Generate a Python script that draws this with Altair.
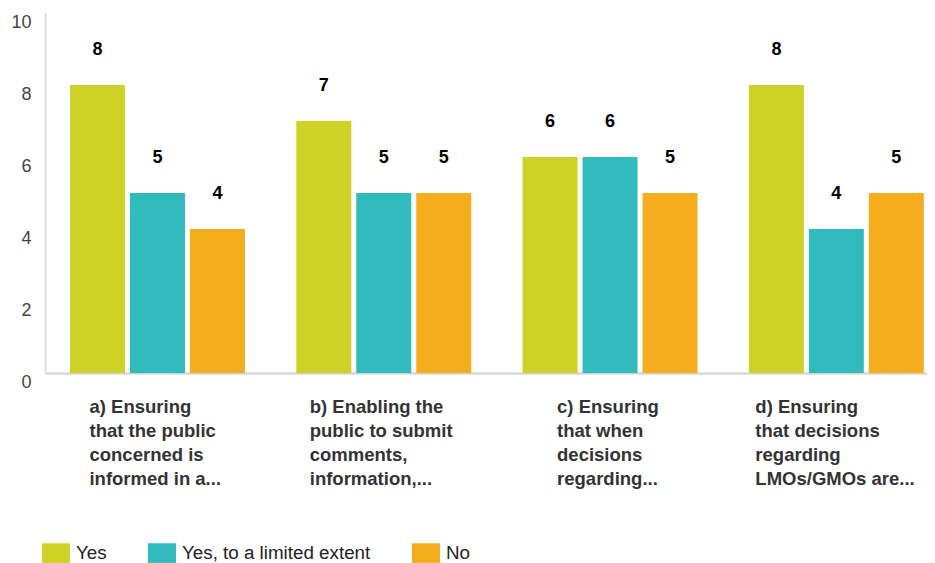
import json
import altair as alt
import pandas as pd

categories = [
    "a) Ensuring|that the public|concerned is|informed in a...",
    "b) Enabling the|public to submit|comments,|information,...",
    "c) Ensuring|that when|decisions|regarding...",
    "d) Ensuring|that decisions|regarding|LMOs/GMOs are...",
]
series = ["Yes", "Yes, to a limited extent", "No"]
yes_vals = [8, 7, 6, 8]
limited_vals = [5, 5, 6, 4]
no_vals = [4, 5, 5, 5]
y_ticks = list(range(0, 11))

colors = ["#CED226", "#32BBBD", "#F5AD1E"]
label_offsets = [-68, -74, -53, -81]
FONT = "Liberation Sans"

rows = []
for i, c in enumerate(categories):
    for s, vals in zip(series, [yes_vals, limited_vals, no_vals]):
        rows.append({"category": c, "series": s, "value": vals[i]})
df = pd.DataFrame(rows)

offset_expr = "{}[indexof({}, datum.value)]".format(
    json.dumps(label_offsets), json.dumps(categories).replace('"', "'")
)

x = alt.X(
    "category:N",
    sort=categories,
    scale=alt.Scale(paddingInner=0.227, paddingOuter=0.0623, align=0.887),
    axis=alt.Axis(
        title=None,
        labelExpr="split(datum.label, '|')",
        labelAlign="left",
        labelOffset=alt.ExprRef(expr=offset_expr),
        labelBaseline="top",
        labelPadding=24,
        labelFont=FONT,
        labelFontSize=18.5,
        labelFontWeight="bold",
        labelColor="#333333",
        labelLineHeight=24,
        labelLimit=400,
        labelOverlap=False,
        labelAngle=0,
        ticks=False,
        tickSize=0,
        domainColor="#D0D0D0",
        domainWidth=2,
        grid=False,
    ),
)
xo = alt.XOffset("series:N", sort=series, scale=alt.Scale(paddingInner=0.083, paddingOuter=0))
y = alt.Y(
    "value:Q",
    scale=alt.Scale(domain=[0, 10], nice=False),
    axis=alt.Axis(
        title=None,
        values=y_ticks,
        labelExpr="datum.value % 2 == 0 ? datum.label : ''",
        gridColor="#FFFFFF",
        gridWidth=2,
        domainColor="#DDDDDD",
        domainWidth=2,
        ticks=False,
        tickSize=0,
        labelPadding=14,
        labelBaseline="top",
        labelFont=FONT,
        labelFontSize=18,
        labelColor="#444444",
    ),
)

bars = alt.Chart(df).mark_bar().encode(
    x=x,
    xOffset=xo,
    y=y,
    color=alt.Color(
        "series:N",
        sort=series,
        scale=alt.Scale(domain=series, range=colors),
        legend=alt.Legend(
            title=None,
            orient="none",
            legendX=-3,
            legendY=526,
            direction="horizontal",
            symbolType="M-1,-0.7H1V0.7H-1Z",
            symbolSize=784,
            symbolStrokeWidth=0,
            symbolOpacity=1,
            labelFont=FONT,
            labelFontSize=18.8,
            labelColor="#222222",
            labelOffset=6,
            labelLimit=400,
            columnPadding=41,
            padding=0,
        ),
    ),
)

labels = alt.Chart(df).mark_text(
    dy=-35, fontSize=18, fontWeight="bold", color="#000000", font=FONT, baseline="middle"
).encode(x=x, xOffset=xo, y=y, text="value:Q")

chart = (
    alt.layer(bars, labels)
    .properties(
        width=882,
        height=360,
        autosize=alt.AutoSizeParams(type="none"),
        padding={"left": 37, "top": 5, "right": 0, "bottom": 190},
    )
    .configure_view(strokeWidth=0, fill="#EFEFEF")
    .configure(background="#FFFFFF")
)

chart.save("out.html", embed_options={"renderer": "svg", "actions": False})
